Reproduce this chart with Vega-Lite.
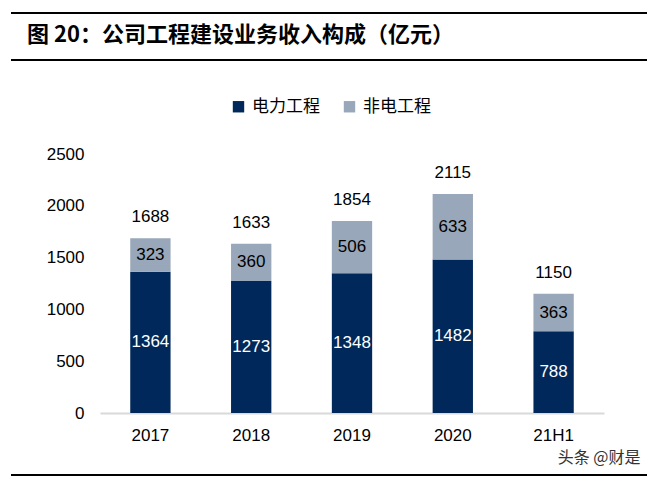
{
  "$schema": "https://vega.github.io/schema/vega-lite/v6.json",
  "width": 504,
  "height": 259,
  "autosize": "none",
  "padding": {"left": 100, "top": 154, "right": 43, "bottom": 64},
  "background": "white",
  "config": {
    "view": {"stroke": null},
    "font": "Liberation Sans"
  },
  "title": {
    "text": "图 20：公司工程建设业务收入构成（亿元）",
    "font": "Noto Sans CJK SC",
    "fontSize": 22,
    "fontWeight": "bold",
    "color": "#000000",
    "anchor": "start",
    "frame": "group",
    "baseline": "alphabetic",
    "dx": -73,
    "offset": -52
  },
  "datasets": {
    "parts": [
      {"year": "2017", "type": "电力工程", "value": 1364},
      {"year": "2017", "type": "非电工程", "value": 323},
      {"year": "2018", "type": "电力工程", "value": 1273},
      {"year": "2018", "type": "非电工程", "value": 360},
      {"year": "2019", "type": "电力工程", "value": 1348},
      {"year": "2019", "type": "非电工程", "value": 506},
      {"year": "2020", "type": "电力工程", "value": 1482},
      {"year": "2020", "type": "非电工程", "value": 633},
      {"year": "21H1", "type": "电力工程", "value": 788},
      {"year": "21H1", "type": "非电工程", "value": 363}
    ],
    "totals": [
      {"year": "2017", "total": 1688},
      {"year": "2018", "total": 1633},
      {"year": "2019", "total": 1854},
      {"year": "2020", "total": 2115},
      {"year": "21H1", "total": 1150}
    ]
  },
  "data": {"name": "parts"},
  "encoding": {
    "x": {
      "field": "year",
      "type": "ordinal",
      "sort": ["2017", "2018", "2019", "2020", "21H1"],
      "scale": {"paddingInner": 0.6, "paddingOuter": 0.3},
      "axis": {
        "title": "头条 @财是",
        "titleFont": "Noto Sans CJK SC",
        "titleFontSize": 16,
        "titleFontWeight": "normal",
        "titleColor": "#333333",
        "titleAnchor": "end",
        "titleAlign": "right",
        "titleX": 540,
        "titleY": 36,
        "labelAngle": 0,
        "labelFontSize": 17,
        "labelColor": "#000000",
        "labelPadding": 14,
        "domainColor": "#D9D9D9",
        "domainWidth": 2,
        "ticks": false,
        "grid": false
      }
    }
  },
  "layer": [
    {
      "mark": {"type": "bar"},
      "encoding": {
        "y": {
          "field": "value",
          "type": "quantitative",
          "stack": "zero",
          "scale": {"domain": [0, 2500], "nice": false},
          "axis": {
            "title": null,
            "values": [0, 500, 1000, 1500, 2000, 2500],
            "format": "d",
            "labelFontSize": 17,
            "labelColor": "#000000",
            "labelPadding": 16,
            "domain": false,
            "ticks": false,
            "grid": false
          }
        },
        "color": {
          "field": "type",
          "type": "nominal",
          "scale": {"domain": ["电力工程", "非电工程"], "range": ["#00285A", "#98A7B9"]},
          "legend": {
            "title": null,
            "orient": "none",
            "direction": "horizontal",
            "legendX": 130,
            "legendY": -56,
            "symbolType": "square",
            "symbolSize": 130,
            "symbolStrokeWidth": 0,
            "labelFont": "Noto Sans CJK SC",
            "labelFontSize": 17,
            "labelColor": "#000000",
            "columnPadding": 21,
            "labelOffset": 5
          }
        },
        "order": {"field": "type", "sort": "ascending"}
      }
    },
    {
      "transform": [
        {"stack": "value", "groupby": ["year"], "sort": [{"field": "type"}], "as": ["v0", "v1"]},
        {"calculate": "(datum.v0 + datum.v1) / 2", "as": "mid"}
      ],
      "mark": {"type": "text", "fontSize": 17, "baseline": "middle"},
      "encoding": {
        "y": {"field": "mid", "type": "quantitative"},
        "text": {"field": "value", "type": "quantitative"},
        "color": {
          "condition": {"test": "datum.type === '电力工程'", "value": "#FFFFFF"},
          "value": "#000000"
        }
      }
    },
    {
      "data": {"name": "totals"},
      "mark": {"type": "text", "fontSize": 17, "baseline": "middle", "dy": -21, "color": "#000000"},
      "encoding": {
        "y": {"field": "total", "type": "quantitative"},
        "text": {"field": "total", "type": "quantitative"}
      }
    },
    {
      "mark": {"type": "rule", "color": "#000000", "strokeWidth": 2},
      "encoding": {"y": {"value": -141}, "x": {"value": -89}, "x2": {"value": 547}}
    },
    {
      "mark": {"type": "rule", "color": "#000000", "strokeWidth": 2},
      "encoding": {"y": {"value": -94}, "x": {"value": -89}, "x2": {"value": 547}}
    },
    {
      "mark": {"type": "rule", "color": "#000000", "strokeWidth": 2},
      "encoding": {"y": {"value": 321}, "x": {"value": -89}, "x2": {"value": 547}}
    }
  ]
}
